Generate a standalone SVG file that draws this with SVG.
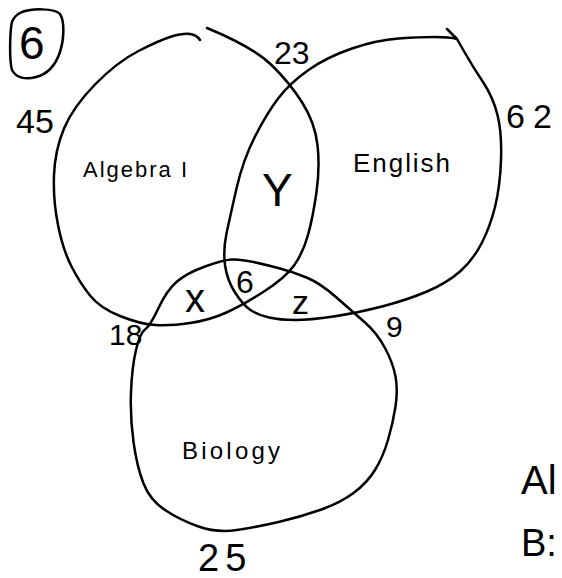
<svg xmlns="http://www.w3.org/2000/svg" width="562" height="578" viewBox="0 0 562 578">
<style>
.c{fill:none;stroke:#000;stroke-width:2.5;stroke-linecap:round;stroke-linejoin:round}
text{font-family:"Liberation Sans","DejaVu Sans",sans-serif;fill:#000}
</style>
<rect width="562" height="578" fill="#fff"/>
<g id="problem-number">
<path class="c" d="M20,13 C30,8 55,8 60,14 C65,22 64,40 60,52 C56,64 48,74 36,77 C26,80 16,78 12,70 C9,60 10,30 12,22 C14,17 16,15 20,13 Z"/>
<text x="19" y="59" font-size="46">6</text>
</g>
<g id="algebra">
<path class="c" d="M207,28 Q253,47 271.5,65 Q290,83 302.5,103 Q315,123 317.5,145 Q320,167 316.5,192 Q313,217 308,235 Q303,253 294,265.5 Q285,278 264,291.5 Q243,305 226.5,312.5 Q210,320 190,323 Q170,326 155,325 Q140,324 120,316 Q100,308 90,295.5 Q80,283 71.5,266.5 Q63,250 58,225 Q53,200 54,175 Q55,150 64,128.5 Q73,107 95,84.5 Q117,62 138.5,51 Q160,40 171.5,36.5 Q183,33 190,34 Q197,35 200,40"/>
<text x="83" y="177" font-size="22" textLength="104" lengthAdjust="spacing">Algebra I</text>
<text x="16" y="133" font-size="34">45</text>
</g>
<g id="english">
<path class="c" d="M447,29 L457,39 L465,53 Q473,67 483,82 Q493,97 497.5,115 Q502,133 501,160 Q500,187 495,207 Q490,227 481.5,243.5 Q473,260 460,271.5 Q447,283 427,291.5 Q407,300 382,306.5 Q357,313 333.5,316.5 Q310,320 295,320 Q280,320 269,317.5 Q258,315 250.5,310 Q243,305 235,292.5 Q227,280 225,265 Q223,250 226.5,233.5 Q230,217 236.5,188.5 Q243,160 255,136.5 Q267,113 278.5,98 Q290,83 308.5,70 Q327,57 352,48.5 Q377,40 398.5,38.5 Q420,37 435,37 Q450,37 457,39"/>
<text x="353" y="172" font-size="26" textLength="97" lengthAdjust="spacing">English</text>
<text x="506" y="128" font-size="34">6<tspan dx="8">2</tspan></text>
</g>
<g id="biology">
<path class="c" d="M145,329.5 Q150,326 158.5,308 Q167,290 177,281.5 Q187,273 205,266.5 Q223,260 231.5,259.5 Q240,259 253.5,262 Q267,265 280,268.5 Q293,272 306.5,277.5 Q320,283 336.5,297.5 Q353,312 365,322.5 Q377,333 385,348 Q393,363 395.5,376.5 Q398,390 395.5,406.5 Q393,423 388,440 Q383,457 375,470 Q367,483 353.5,493 Q340,503 320,510 Q300,517 278.5,522 Q257,527 237,530 Q217,533 198.5,526.5 Q180,520 165,510 Q150,500 143.5,483.5 Q137,467 133.5,442 Q130,417 131,392 Q132,367 136,350 Q140,333 145,329.5 Z"/>
<text x="182" y="459" font-size="24" textLength="98" lengthAdjust="spacing">Biology</text>
<text x="198" y="571" font-size="38">2<tspan dx="6">5</tspan></text>
</g>
<g id="regions">
<text x="274" y="64" font-size="32">23</text>
<text x="262" y="206" font-size="46">Y</text>
<text x="185" y="312" font-size="40">x</text>
<text x="236" y="293" font-size="32">6</text>
<text x="292" y="314" font-size="34">z</text>
<text x="109" y="345" font-size="30">18</text>
<text x="386" y="337" font-size="30">9</text>
</g>
<g id="side-notes">
<text x="521" y="494" font-size="40">Al</text>
<text x="521" y="556" font-size="38">B:</text>
</g>
<g id="connectors"></g>
</svg>
